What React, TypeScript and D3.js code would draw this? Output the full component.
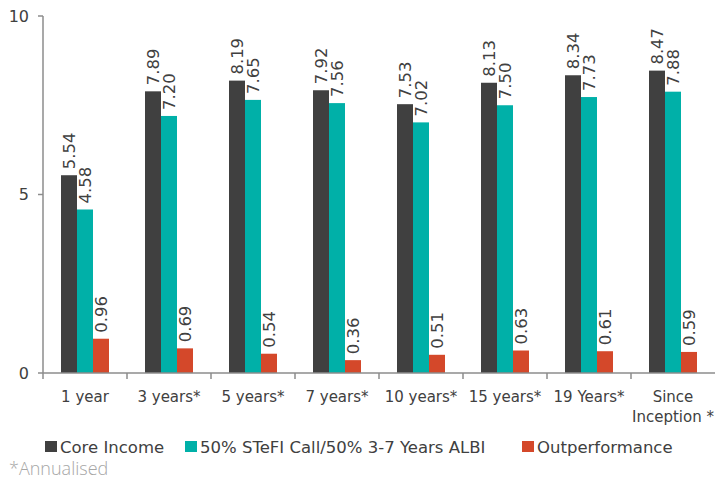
import React from "react";
import * as d3 from "d3";

const categories = ["1 year", "3 years*", "5 years*", "7 years*", "10 years*", "15 years*", "19 Years*", "Since Inception *"];
const coreIncome = [5.54, 7.89, 8.19, 7.92, 7.53, 8.13, 8.34, 8.47];
const benchmark = [4.58, 7.2, 7.65, 7.56, 7.02, 7.5, 7.73, 7.88];
const outperformance = [0.96, 0.69, 0.54, 0.36, 0.51, 0.63, 0.61, 0.59];
const seriesNames = ["Core Income", "50% STeFI Call/50% 3-7 Years ALBI", "Outperformance"];
const yTicks = [0, 5, 10];

const colors = ["#404040", "#00b0a8", "#d4482a"];
const font = "Tahoma, 'DejaVu Sans', sans-serif";

export default function App() {
  const width = 715;
  const height = 479;
  const x = d3.scaleBand<string>().domain(categories).range([43, 715]).paddingInner(0);
  const y = d3.scaleLinear().domain([0, 10]).range([373, 16]);
  const barW = 16;
  const series = [coreIncome, benchmark, outperformance];
  const groupOffset = (x.bandwidth() - barW * series.length) / 2;

  const legendX = [45, 185, 522];

  return (
    <div style={{ position: "absolute", left: 0, top: 0 }}>
      <svg width={width} height={height} style={{ display: "block", fontFamily: font }}>
        <rect width={width} height={height} fill="#fff" />
        {series.map((vals, si) =>
          vals.map((v, ci) => {
            const bx = (x(categories[ci]) as number) + groupOffset + si * barW;
            return (
              <g key={`${si}-${ci}`}>
                <rect x={bx} y={y(v)} width={barW} height={y(0) - y(v)} fill={colors[si]} />
                <text
                  transform={`translate(${bx + barW / 2 + 1},${y(v) - 6}) rotate(-90)`}
                  textAnchor="start"
                  dominantBaseline="middle"
                  fontSize={16.5}
                  fill="#404040"
                >
                  {v.toFixed(2)}
                </text>
              </g>
            );
          })
        )}
        {/* y axis */}
        <line x1={43} x2={43} y1={16} y2={373} stroke="#8c8c8c" strokeWidth={1.5} />
        {yTicks.map((t) => (
          <g key={t}>
            <line x1={38} x2={43} y1={y(t)} y2={y(t)} stroke="#8c8c8c" strokeWidth={1.5} />
            <text x={29} y={y(t)} textAnchor="end" dominantBaseline="central" fontSize={16} fill="#404040">
              {t}
            </text>
          </g>
        ))}
        {/* x axis */}
        <line x1={43} x2={715} y1={373} y2={373} stroke="#8c8c8c" strokeWidth={1.5} />
        {categories.map((c) => (
          <line key={c} x1={x(c) as number} x2={x(c) as number} y1={373} y2={379} stroke="#8c8c8c" strokeWidth={1.5} />
        ))}
        {categories.map((c) => {
          const cx = (x(c) as number) + x.bandwidth() / 2;
          const lines = c === "Since Inception *" ? ["Since", "Inception *"] : [c];
          return (
            <text key={c} x={cx} y={402} textAnchor="middle" fontSize={15} fill="#404040">
              {lines.map((l, li) => (
                <tspan key={li} x={cx} dy={li === 0 ? 0 : 20}>
                  {l}
                </tspan>
              ))}
            </text>
          );
        })}
        {/* legend */}
        {seriesNames.map((n, i) => (
          <g key={n}>
            <rect x={legendX[i]} y={441} width={12} height={11} fill={colors[i]} />
            <text x={legendX[i] + 15} y={447} dominantBaseline="central" fontSize={16.5} fill="#404040">
              {n}
            </text>
          </g>
        ))}
        <text x={9} y={468} dominantBaseline="central" fontSize={18} fontWeight={300} fill="#a6a6a6" fontFamily="'Open Sans', sans-serif">
          *Annualised
        </text>
      </svg>
    </div>
  );
}
